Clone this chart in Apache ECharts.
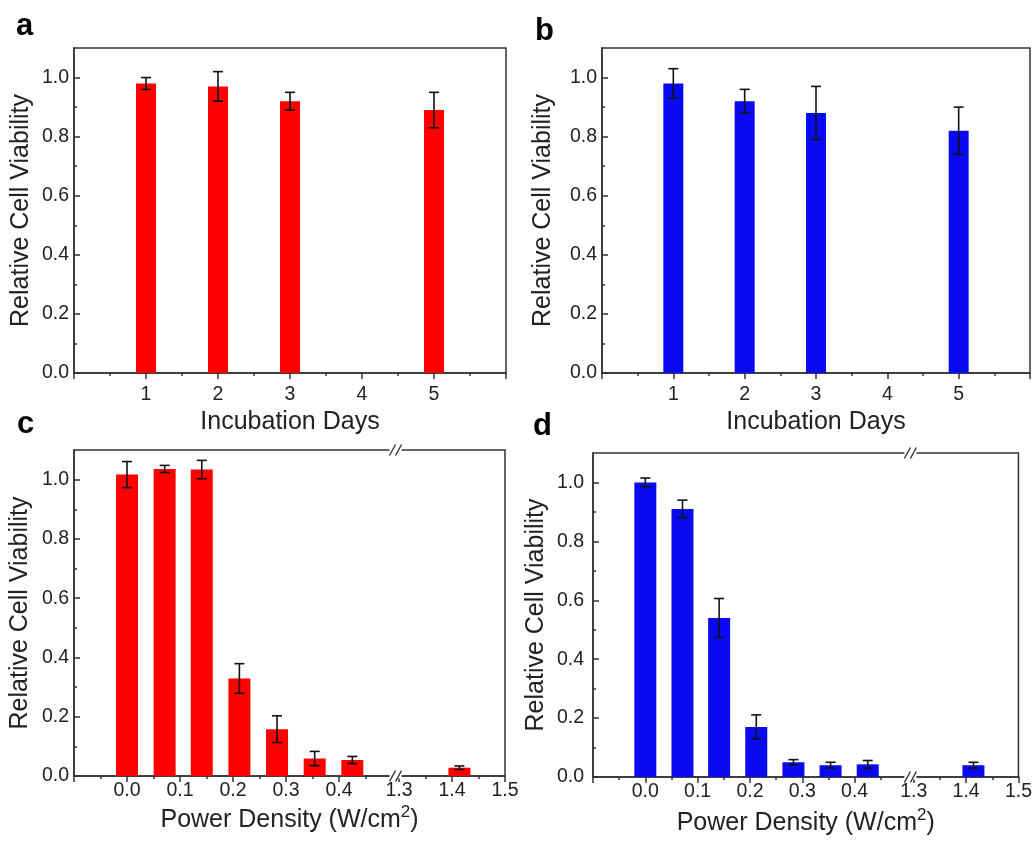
<!DOCTYPE html>
<html>
<head>
<meta charset="utf-8">
<script src="https://cdn.jsdelivr.net/npm/echarts@6/dist/echarts.min.js"></script>
<style>
  html, body { margin: 0; padding: 0; background: #ffffff; }
  #chart { width: 1035px; height: 842px; }
</style>
</head>
<body>
<div id="chart"></div>
<script>
// Incubation days (panels a, b)
const incubationDays = [1, 2, 3, 5];
const viabilityA = [0.98, 0.97, 0.92, 0.89];
const errorA = [0.02, 0.05, 0.03, 0.06];
const viabilityB = [0.98, 0.92, 0.88, 0.82];
const errorB = [0.05, 0.04, 0.09, 0.08];

// Power density in W/cm2 (panels c, d)
const powerDensity = [0, 0.071, 0.141, 0.212, 0.283, 0.354, 0.425, 1.414];
const viabilityC = [1.017, 1.036, 1.034, 0.329, 0.158, 0.059, 0.054, 0.028];
const errorC = [0.044, 0.012, 0.031, 0.050, 0.045, 0.024, 0.012, 0.006];
const viabilityD = [1.000, 0.910, 0.540, 0.170, 0.050, 0.040, 0.043, 0.040];
const errorD = [0.015, 0.030, 0.066, 0.041, 0.009, 0.010, 0.013, 0.010];

// Tick positions and labels
const dayLabels = [1, 2, 3, 4, 5];
const dayTicks = [0, 1, 2, 3, 4, 5, 6];
const dayMinorTicks = [0.5, 1.5, 2.5, 3.5, 4.5, 5.5];
const powerLabels = [0, 0.1, 0.2, 0.3, 0.4, 1.3, 1.4, 1.5];
const powerTicks = [-0.1, 0, 0.1, 0.2, 0.3, 0.4, 1.3, 1.4, 1.5];
const powerMinorTicks = [-0.05, 0.05, 0.15, 0.25, 0.35, 0.45, 1.35, 1.45];
const viabilityLabels = [0, 0.2, 0.4, 0.6, 0.8, 1.0];
const viabilityMinorTicks = [0.1, 0.3, 0.5, 0.7, 0.9];

// Axis break on the power-density axis
const powerBreak = { start: 0.5, end: 1.3 };

const FONT = '"Liberation Sans", Arial, Helvetica, sans-serif';
const INK = '#222222';
const AXIS_INK = '#333333';
const RED = '#ff0000';
const BLUE = '#0a0af2';

const panels = [
  { grid: { left: 74, top: 48, width: 432, height: 325 }, x: incubationDays, y: viabilityA, err: errorA, color: RED,
    days: true, xLabelMargin: 12, yLabelMargin: 5, yNameGap: 40, xNameGap: 32, letter: 'a', letterPos: [16, 11] },
  { grid: { left: 602, top: 48, width: 428, height: 325 }, x: incubationDays, y: viabilityB, err: errorB, color: BLUE,
    days: true, xLabelMargin: 12, yLabelMargin: 5, yNameGap: 46, xNameGap: 32, letter: 'b', letterPos: [535, 16] },
  { grid: { left: 74, top: 450, width: 431, height: 326 }, x: powerDensity, y: viabilityC, err: errorC, color: RED,
    days: false, xLabelMargin: 5, yLabelMargin: 5, yNameGap: 41, xNameGap: 28, letter: 'c', letterPos: [17, 409] },
  { grid: { left: 593, top: 453, width: 428, height: 324 }, x: powerDensity, y: viabilityD, err: errorD, color: BLUE,
    days: false, xLabelMargin: 5, yLabelMargin: 9, yNameGap: 44, xNameGap: 30, letter: 'd', letterPos: [533, 411] }
];

const chart = echarts.init(document.getElementById('chart'), null, { renderer: 'canvas' });

const option = {
  animation: false,
  backgroundColor: '#ffffff',
  textStyle: { fontFamily: FONT },
  grid: [],
  xAxis: [],
  yAxis: [],
  series: [],
  graphic: []
};

function fmtDecimal(v) { return Number(v).toFixed(1); }

panels.forEach((p, i) => {
  option.grid.push(Object.assign({
    show: true, borderColor: AXIS_INK, borderWidth: 1.5, backgroundColor: 'transparent', containLabel: false
  }, p.grid));

  const xBase = p.days
    ? { type: 'value', min: 0, max: 6 }
    : { type: 'value', min: -0.1, max: 1.5,
        breaks: [{ start: powerBreak.start, end: powerBreak.end, gap: '1.6%' }],
        breakArea: { show: false } };

  // main x axis: line, major ticks, labels, title
  option.xAxis.push(Object.assign({}, xBase, {
    gridIndex: i,
    position: 'bottom',
    axisLine: { show: true, onZero: false, lineStyle: { color: AXIS_INK, width: 1.5 } },
    axisTick: { show: true, inside: false, length: 6, lineStyle: { color: AXIS_INK, width: 1.5 },
      customValues: p.days ? dayTicks : powerTicks },
    axisLabel: { show: true, margin: p.xLabelMargin, fontSize: 19.5, color: INK, fontFamily: FONT,
      customValues: p.days ? dayLabels : powerLabels,
      formatter: p.days ? (v => String(v)) : fmtDecimal },
    splitLine: { show: false },
    name: p.days ? 'Incubation Days' : 'Power Density (W/cm{sup|2})',
    nameLocation: 'middle',
    nameGap: p.xNameGap,
    nameTextStyle: { fontSize: 25, color: INK, fontFamily: FONT, lineHeight: 32,
      rich: { sup: { fontSize: 17, lineHeight: 17, verticalAlign: 'top', color: INK, fontFamily: FONT } } }
  }));
  // minor x ticks
  option.xAxis.push(Object.assign({}, xBase, {
    gridIndex: i,
    position: 'bottom',
    axisLine: { show: false, onZero: false },
    axisTick: { show: true, inside: false, length: 3, lineStyle: { color: AXIS_INK, width: 1.5 },
      customValues: p.days ? dayMinorTicks : powerMinorTicks },
    axisLabel: { show: false },
    splitLine: { show: false }
  }));

  // main y axis
  option.yAxis.push({
    type: 'value', gridIndex: i, min: 0, max: 1.1, position: 'left',
    axisLine: { show: true, onZero: false, lineStyle: { color: AXIS_INK, width: 1.5 } },
    axisTick: { show: true, inside: true, length: 6, lineStyle: { color: AXIS_INK, width: 1.5 },
      customValues: viabilityLabels },
    axisLabel: { show: true, margin: p.yLabelMargin, fontSize: 19.5, color: INK, fontFamily: FONT,
      customValues: viabilityLabels, formatter: fmtDecimal },
    splitLine: { show: false },
    name: 'Relative Cell Viability',
    nameLocation: 'middle',
    nameGap: p.yNameGap,
    nameTextStyle: { fontSize: 25, color: INK, fontFamily: FONT }
  });
  // minor y ticks
  option.yAxis.push({
    type: 'value', gridIndex: i, min: 0, max: 1.1, position: 'left',
    axisLine: { show: false, onZero: false },
    axisTick: { show: true, inside: true, length: 3, lineStyle: { color: AXIS_INK, width: 1.5 },
      customValues: viabilityMinorTicks },
    axisLabel: { show: false },
    splitLine: { show: false }
  });

  const xIdx = 2 * i, yIdx = 2 * i;

  option.series.push({
    type: 'bar',
    xAxisIndex: xIdx,
    yAxisIndex: yIdx,
    barWidth: p.days ? 20 : 22,
    itemStyle: { color: p.color },
    data: p.x.map((x, k) => [x, p.y[k]]),
    z: 2
  });

  option.series.push({
    type: 'custom',
    coordinateSystem: 'cartesian2d',
    xAxisIndex: xIdx,
    yAxisIndex: yIdx,
    silent: true,
    z: 5,
    encode: { x: 0, y: [1, 2] },
    data: p.x.map((x, k) => [x, p.y[k] - p.err[k], p.y[k] + p.err[k]]),
    renderItem: function (params, api) {
      const lo = api.coord([api.value(0), api.value(1)]);
      const hi = api.coord([api.value(0), api.value(2)]);
      const hw = 5;
      const st = { stroke: '#111111', lineWidth: 1.6 };
      return {
        type: 'group',
        children: [
          { type: 'line', shape: { x1: lo[0], y1: lo[1], x2: hi[0], y2: hi[1] }, style: st },
          { type: 'line', shape: { x1: lo[0] - hw, y1: lo[1], x2: lo[0] + hw, y2: lo[1] }, style: st },
          { type: 'line', shape: { x1: hi[0] - hw, y1: hi[1], x2: hi[0] + hw, y2: hi[1] }, style: st }
        ]
      };
    }
  });

  option.graphic.push({
    type: 'text', left: p.letterPos[0], top: p.letterPos[1], z: 50,
    style: { text: p.letter, font: 'bold 31px ' + FONT, fill: '#000000' }
  });
});

chart.setOption(option);

// Break marks "//" on the bottom and top frame lines of panels c and d
const breakMarks = [];
[2, 3].forEach(i => {
  const g = panels[i].grid;
  const xa = chart.convertToPixel({ xAxisIndex: 2 * i }, powerBreak.start);
  const xb = chart.convertToPixel({ xAxisIndex: 2 * i }, powerBreak.end);
  const mid = (xa + xb) / 2;
  [g.top, g.top + g.height].forEach(yl => {
    breakMarks.push({
      type: 'rect', z: 60, silent: true,
      shape: { x: mid - 6, y: yl - 2.5, width: 12, height: 5 },
      style: { fill: '#ffffff' }
    });
    [-3, 3].forEach(dx => {
      breakMarks.push({
        type: 'line', z: 61, silent: true,
        shape: { x1: mid + dx - 3, y1: yl + 5.5, x2: mid + dx + 3, y2: yl - 5.5 },
        style: { stroke: AXIS_INK, lineWidth: 1.4 }
      });
    });
  });
});
chart.setOption({ graphic: option.graphic.concat(breakMarks) });
</script>
</body>
</html>
